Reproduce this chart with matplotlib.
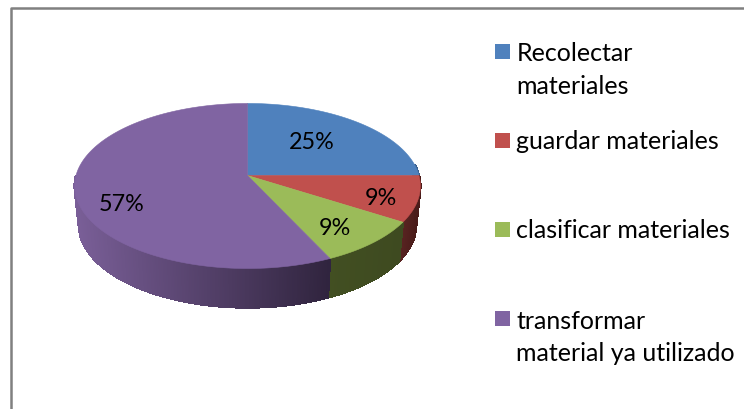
import numpy as np
from matplotlib import pyplot as plt
from matplotlib.colors import to_rgb

# chart data
labels = [["Recolectar", "materiales"], ["guardar materiales"],
          ["clasificar materiales"], ["transformar", "material ya utilizado"]]
values = [25, 9, 9, 57]
pct_labels = ["25%", "9%", "9%", "57%"]
colors = ["#4f81bd", "#c0504d", "#9bbb59", "#8064a2"]

# side wall shades, left end -> right end of each wedge
side_left = ["#3a5f8c", "#5a2422", "#424f22", "#7a5f98"]
side_right = ["#3a5f8c", "#4a1c1a", "#3e4a20", "#30243e"]

# layout, in picture pixels
pct_xy = [(312, 143), (381, 199), (335, 229), (122, 205)]
legend_y = [45, 134, 223, 312]
legend_base = [61, 149, 238, 329]

CX, CY = 247.5, 176.5

plt.rcParams['font.family'] = ['Lato', 'DejaVu Sans']

fig = plt.figure(figsize=(7.44, 4.10), dpi=100)
ax = fig.add_axes([0, 0, 1, 1])
ax.set_xlim(0, 744)
ax.set_ylim(410, 0)
ax.axis('off')

# chart frame, cut off by the picture on right and bottom
ax.plot([10.5, 10.5, 744], [410, 8.5, 8.5], color='#808080', lw=1.8)


def project(t):
  """ Perspective view of the unit circle, t in degrees """
  X = np.cos(np.radians(t))
  Y = np.sin(np.radians(t))
  d = 1 + 0.127 * Y
  return CX + 171.5 * X / d, CY - 81.2 * Y / d


# wedges run clockwise from 12 o'clock
edges = 90 - 3.6 * np.cumsum([0] + values)

# side walls first
for i in range(len(values)):
  a0, a1 = edges[i], edges[i + 1]
  ts = np.linspace(a1, a0, int(abs(a0 - a1) * 2) + 2)
  ts = ts[(ts % 360 > 180) | (ts % 360 < 8)]
  if len(ts) < 2:
    continue
  x, y = project(ts)
  bx = CX + (x - CX) * 0.975
  by = y + 39
  cl, cr = np.array(to_rgb(side_left[i])), np.array(to_rgb(side_right[i]))
  for j in range(len(ts) - 1):
    f = (x[j] - x.min()) / max(x.max() - x.min(), 1)
    c = cl + (cr - cl) * f
    ax.fill([x[j], x[j + 1], bx[j + 1], bx[j]], [y[j], y[j + 1], by[j + 1], by[j]],
            color=c, lw=1.0, antialiased=False)

# top surface
for i in range(len(values)):
  ts = np.linspace(edges[i], edges[i + 1], 200)
  x, y = project(ts)
  ax.fill(np.r_[CX, x], np.r_[CY, y], color=colors[i], lw=0.4)

for txt, (px, py) in zip(pct_labels, pct_xy):
  ax.text(px, py, txt, ha='center', va='center', fontsize=16.8, color='black')

# legend
for i in range(len(labels)):
  ax.fill([495, 510, 510, 495], [legend_y[i], legend_y[i], legend_y[i] + 15, legend_y[i] + 15],
          color=colors[i], lw=0)
  for k, line in enumerate(labels[i]):
    ax.text(516.5, legend_base[i] + 32.5 * k, line, ha='left', va='baseline',
            fontsize=18, color='black')

fig.savefig('out.png', dpi=100)
